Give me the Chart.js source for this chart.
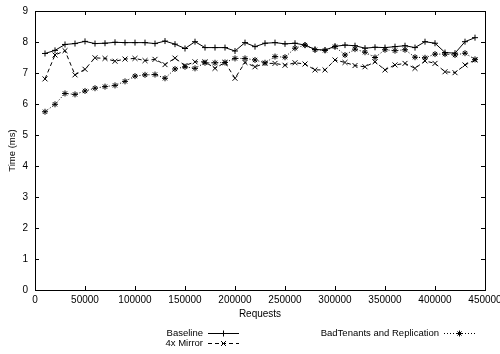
<!DOCTYPE html>
<html>
<head>
<meta charset="utf-8">
<script src="https://cdn.jsdelivr.net/npm/chart.js@4"></script>
<style>
  html, body { margin: 0; padding: 0; background: #fff; }
</style>
</head>
<body>
<canvas id="times" width="500" height="354"></canvas>
<script>
// requests per run (x values)
const requests = [10000, 20000, 30000, 40000, 50000, 60000, 70000, 80000, 90000, 100000,
  110000, 120000, 130000, 140000, 150000, 160000, 170000, 180000, 190000, 200000,
  210000, 220000, 230000, 240000, 250000, 260000, 270000, 280000, 290000, 300000,
  310000, 320000, 330000, 340000, 350000, 360000, 370000, 380000, 390000, 400000,
  410000, 420000, 430000, 440000];

const baseline = [7.63, 7.73, 7.92, 7.95, 8.02, 7.95, 7.96, 7.99, 7.98, 7.98,
  7.98, 7.95, 8.03, 7.93, 7.79, 8.01, 7.82, 7.82, 7.82, 7.71,
  7.98, 7.85, 7.96, 7.98, 7.94, 7.96, 7.90, 7.76, 7.74, 7.86,
  7.90, 7.88, 7.80, 7.83, 7.82, 7.85, 7.88, 7.82, 8.01, 7.96,
  7.66, 7.64, 8.01, 8.14];

const mirror4x = [6.81, 7.58, 7.72, 6.94, 7.12, 7.49, 7.47, 7.38, 7.45, 7.47,
  7.40, 7.44, 7.27, 7.48, 7.24, 7.36, 7.36, 7.15, 7.34, 6.83,
  7.34, 7.20, 7.31, 7.31, 7.25, 7.33, 7.29, 7.10, 7.10, 7.42,
  7.34, 7.24, 7.20, 7.36, 7.10, 7.26, 7.31, 7.15, 7.39, 7.31,
  7.04, 7.01, 7.26, 7.42];

const badTenants = [5.75, 5.99, 6.34, 6.31, 6.42, 6.51, 6.56, 6.60, 6.73, 6.90,
  6.94, 6.95, 6.83, 7.13, 7.20, 7.15, 7.33, 7.33, 7.34, 7.47,
  7.47, 7.42, 7.33, 7.53, 7.51, 7.80, 7.90, 7.75, 7.73, 7.85,
  7.58, 7.77, 7.67, 7.50, 7.75, 7.72, 7.75, 7.51, 7.49, 7.61,
  7.61, 7.58, 7.64, 7.44];

const xTickStep = 50000;
const yTickStep = 1;

const FONT = "'Liberation Sans', Arial, sans-serif";

function points(ys) {
  return requests.map((x, i) => ({ x: x, y: ys[i] }));
}

// gnuplot style frame: box around the plot with ticks pointing inwards on all sides
const framePlugin = {
  id: 'frame',
  afterDraw(chart) {
    const { ctx, chartArea: a, scales } = chart;
    const len = 4;
    ctx.save();
    ctx.strokeStyle = '#000';
    ctx.lineWidth = 1;
    ctx.strokeRect(a.left + 0.5, a.top + 0.5, a.right - a.left, a.bottom - a.top);
    ctx.beginPath();
    scales.x.ticks.forEach(t => {
      const px = Math.round(scales.x.getPixelForValue(t.value)) + 0.5;
      ctx.moveTo(px, a.bottom); ctx.lineTo(px, a.bottom - len);
      ctx.moveTo(px, a.top); ctx.lineTo(px, a.top + len);
    });
    scales.y.ticks.forEach(t => {
      const py = Math.round(scales.y.getPixelForValue(t.value)) + 0.5;
      ctx.moveTo(a.left, py); ctx.lineTo(a.left + len, py);
      ctx.moveTo(a.right, py); ctx.lineTo(a.right - len, py);
    });
    ctx.stroke();
    ctx.restore();
  }
};

// legend below the axis, text on the left of a short line sample
const legendPlugin = {
  id: 'keyBox',
  afterDraw(chart) {
    const { ctx } = chart;
    const items = [
      { ds: 0, textX: 203, y: 333 },
      { ds: 1, textX: 203, y: 343 },
      { ds: 2, textX: 439, y: 333 }
    ];
    ctx.save();
    ctx.font = '9.5px ' + FONT;
    ctx.fillStyle = '#000';
    ctx.textAlign = 'right';
    ctx.textBaseline = 'middle';
    items.forEach(it => {
      const ds = chart.data.datasets[it.ds];
      ctx.fillText(ds.label, it.textX, it.y);
      const x1 = it.textX + 5, x2 = it.textX + 36;
      ctx.strokeStyle = '#000';
      ctx.lineWidth = 1;
      ctx.setLineDash(ds.borderDash || []);
      ctx.beginPath();
      ctx.moveTo(x1, it.y + 0.5);
      ctx.lineTo(x2, it.y + 0.5);
      ctx.stroke();
      ctx.setLineDash([]);
      Chart.helpers.drawPoint(ctx, {
        pointStyle: ds.pointStyle, radius: ds.pointRadius, borderWidth: 1, rotation: 0
      }, (x1 + x2) / 2, it.y + 0.5);
    });
    ctx.restore();
  }
};

new Chart(document.getElementById('times'), {
  type: 'line',
  data: {
    datasets: [
      { label: 'Baseline', data: points(baseline), borderColor: '#000', backgroundColor: '#000',
        borderWidth: 1, pointStyle: 'cross', pointRadius: 3, pointBorderWidth: 1, tension: 0 },
      { label: '4x Mirror', data: points(mirror4x), borderColor: '#000', backgroundColor: '#000',
        borderWidth: 1, borderDash: [4, 3], pointStyle: 'crossRot', pointRadius: 3.5, pointBorderWidth: 1, tension: 0 },
      { label: 'BadTenants and Replication', data: points(badTenants), borderColor: '#000', backgroundColor: '#000',
        borderWidth: 1, borderDash: [1, 2], pointStyle: 'star', pointRadius: 3, pointBorderWidth: 1, tension: 0 }
    ]
  },
  options: {
    responsive: false,
    animation: false,
    layout: { padding: { left: 7, right: 15, top: 11, bottom: 34 } },
    plugins: { legend: { display: false }, tooltip: { enabled: false } },
    scales: {
      x: {
        type: 'linear', min: 0, max: 450000,
        grid: { display: false, drawTicks: false },
        border: { display: false },
        ticks: { stepSize: xTickStep, padding: 4, color: '#000', maxRotation: 0,
          font: { family: FONT, size: 10 }, callback: v => String(v) },
        title: { display: true, text: 'Requests', color: '#000', padding: 0,
          font: { family: FONT, size: 10 } },
        afterFit(s) { s.height = 30; s.paddingLeft = 0; s.paddingRight = 0; }
      },
      y: {
        min: 0, max: 9,
        grid: { display: false, drawTicks: false },
        border: { display: false },
        ticks: { stepSize: yTickStep, padding: 7, color: '#000',
          font: { family: FONT, size: 10 } },
        title: { display: true, text: 'Time (ms)', color: '#000', padding: 0,
          font: { family: FONT, size: 9.5 } },
        afterFit(s) { s.width = 28; s.paddingTop = 0; s.paddingBottom = 0; }
      }
    }
  },
  plugins: [framePlugin, legendPlugin]
});
</script>
</body>
</html>
